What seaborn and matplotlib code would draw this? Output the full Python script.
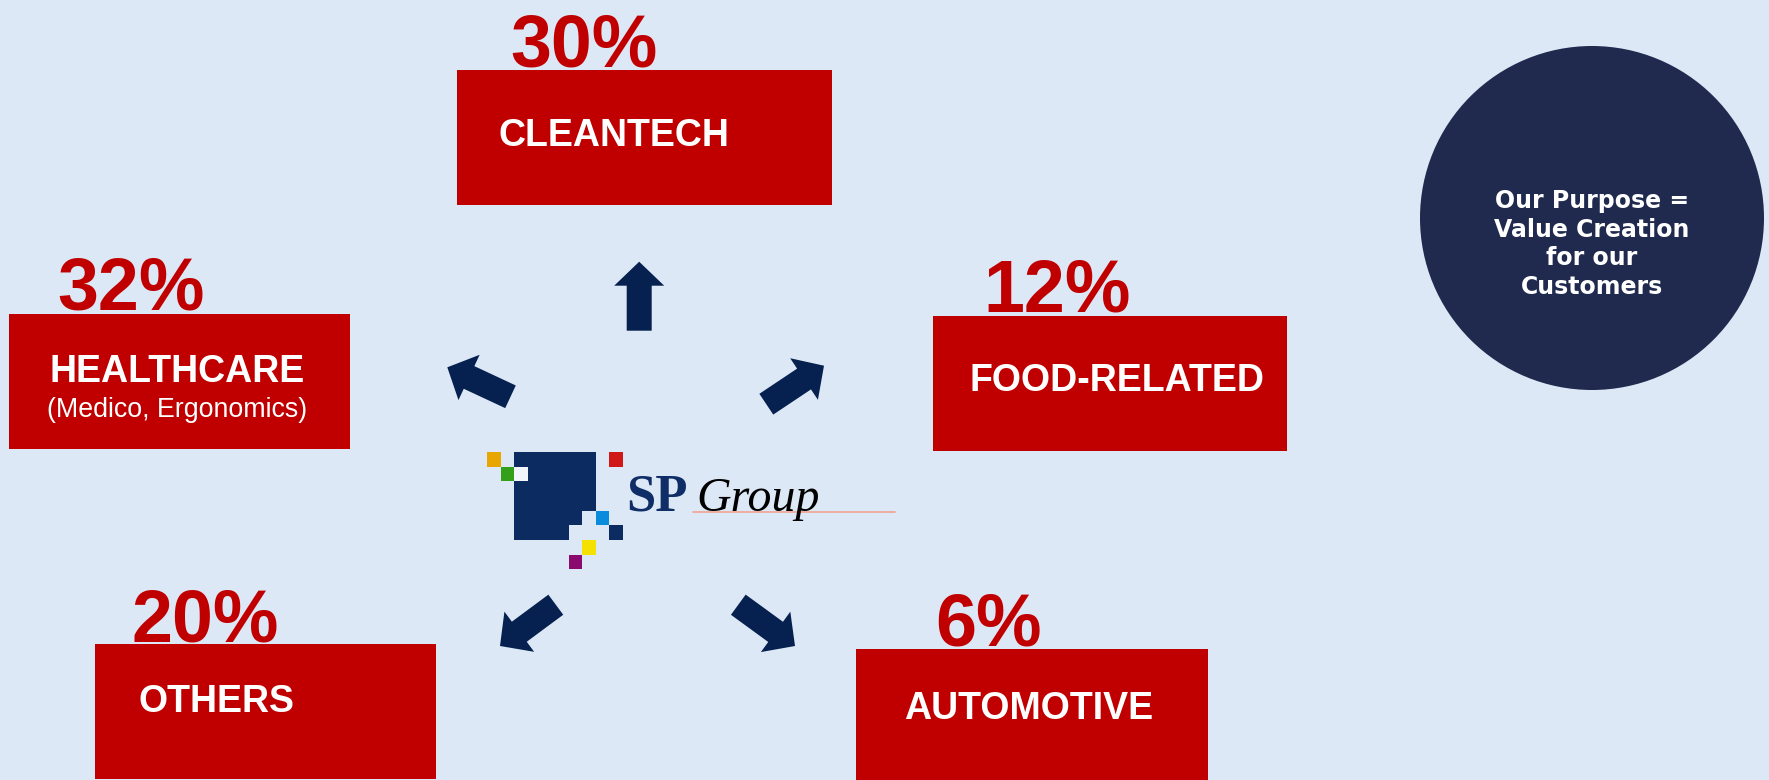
import matplotlib
matplotlib.use("Agg")
import matplotlib.pyplot as plt
from matplotlib.patches import Rectangle, Circle, FancyArrow
import seaborn as sns

# ---------------- data ----------------
segments = ["CLEANTECH", "HEALTHCARE", "FOOD-RELATED", "OTHERS", "AUTOMOTIVE"]
shares = [30, 32, 12, 20, 6]
subtitles = ["", "(Medico, Ergonomics)", "", "", ""]
purpose_lines = ["Our Purpose =", "Value Creation", "for our", "Customers"]
logo_word1 = "SP"
logo_word2 = "Group"

# ---------------- layout (pixel space of 1769 x 780 canvas) ----------------
boxes = [(457, 70, 832, 205), (9, 314, 350, 449), (933, 316, 1287, 451),
         (95, 644, 436, 779), (856, 649, 1208, 781)]
label_pos = [(499, 145.7, "left"), (177, 382.3, "center"), (970, 390.7, "left"),
             (139, 711.7, "left"), (904, 719, "left")]
pct_pos = [(510, 66.7), (57, 310), (983, 311.7), (131, 641), (935, 646)]
arrows = [((639.2, 330.7), (639.2, 261.7)), ((510.5, 396.8), (447.3, 367.3)),
          ((766.3, 404.2), (824, 365.7)), ((555.8, 604.7), (500, 646)),
          ((738.3, 604.7), (795, 646))]

BG = "#DCE8F5"
RED = "#C00000"
NAVY_ARROW = "#06204F"
CIRCLE = "#1F2A4E"

sns.set_theme(style="white", rc={"figure.facecolor": BG, "axes.facecolor": BG})

fig = plt.figure(figsize=(17.69, 7.80), dpi=100)
ax = fig.add_axes([0, 0, 1, 1])
ax.set_xlim(0, 1769)
ax.set_ylim(780, 0)
ax.axis("off")

# red boxes, labels and percentages
for seg, share, sub, (x0, y0, x1, y1), (lx, ly, ha), (px, py) in zip(
        segments, shares, subtitles, boxes, label_pos, pct_pos):
    ax.add_patch(Rectangle((x0, y0), x1 - x0, y1 - y0, facecolor=RED, edgecolor="none"))
    ax.text(lx, ly, seg, color="white", fontsize=27, fontweight="bold",
            family="Liberation Sans", ha=ha, va="baseline")
    if sub:
        ax.text(lx, ly + 34.4, sub, color="white", fontsize=19.3,
                family="Liberation Sans", ha="center", va="baseline")
    ax.text(px, py, f"{share}%", color=RED, fontsize=53, fontweight="bold",
            family="Liberation Sans", ha="left", va="baseline")

# arrows
for (tx, ty), (hx, hy) in arrows:
    ax.add_patch(FancyArrow(tx, ty, hx - tx, hy - ty, width=25, head_width=50,
                            head_length=24, length_includes_head=True,
                            facecolor=NAVY_ARROW, edgecolor="none"))

# purpose circle
ax.add_patch(Circle((1592, 218), 172, facecolor=CIRCLE, edgecolor="none"))
for i, line in enumerate(purpose_lines):
    ax.text(1592, 208.3 + i * 28.4, line, color="white", fontsize=17,
            fontweight="bold", family="DejaVu Sans", ha="center", va="baseline")

# SP Group logo (grid of squares)
cw, ch = 40.7 / 3, 44 / 3
gx0, gy0 = 487.3, 452
logo_cells = [(0, 0, 1, 1, "#E8A600"), (1, 1, 1, 1, "#34A01A"),
              (2, 0, 6, 6, "#0C2B60"), (2, 1, 1, 1, "#F2F6FB"),
              (7, 4, 1, 2, BG), (6, 5, 1, 1, BG),
              (9, 0, 1, 1, "#D01818"), (8, 4, 1, 1, "#0A8CDC"),
              (9, 5, 1, 1, "#0C2B60"), (7, 6, 1, 1, "#F5E100"),
              (6, 7, 1, 1, "#8B0A6E")]
for c, r, w, h, col in logo_cells:
    ax.add_patch(Rectangle((gx0 + c * cw, gy0 + r * ch), w * cw, h * ch,
                           facecolor=col, edgecolor="none"))
ax.text(626, 510.7, logo_word1, color="#0F2D66", fontsize=38, fontweight="bold",
        family="Liberation Serif", ha="left", va="baseline")
ax.plot([692.7, 894.7], [511.7, 511.7], color="#F0A898", lw=1.3)
ax.text(696, 510.7, logo_word2, color="black", fontsize=34.5, style="italic",
        family="Liberation Serif", ha="left", va="baseline")

fig.savefig("out.png", dpi=100, facecolor=BG)
